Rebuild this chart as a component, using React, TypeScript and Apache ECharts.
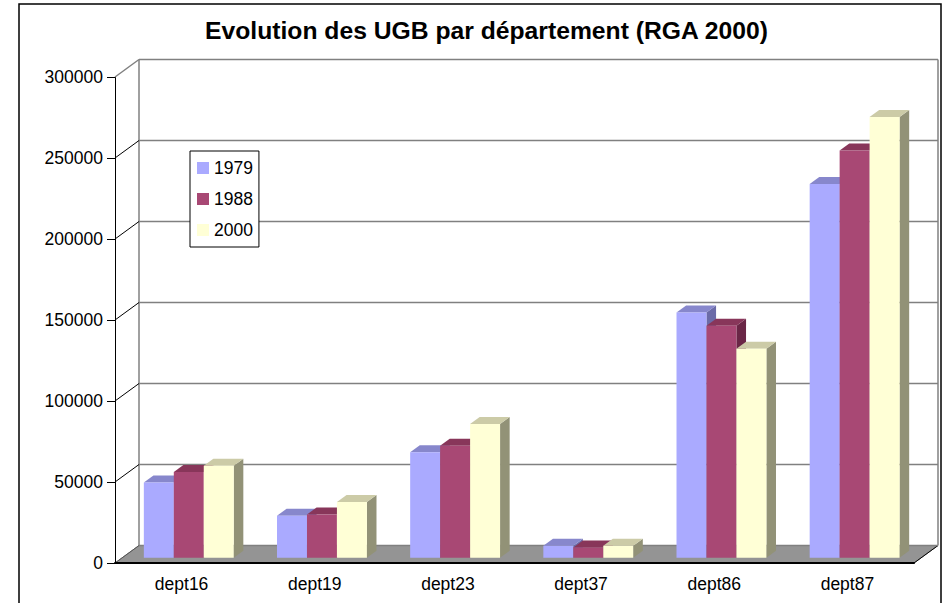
import React, { useEffect, useRef } from "react";
import * as echarts from "echarts";

const categories = ["dept16", "dept19", "dept23", "dept37", "dept86", "dept87"];
const years = ["1979", "1988", "2000"];
const values1979 = [46500, 25900, 65200, 7400, 151400, 230700];
const values1988 = [52900, 26700, 69100, 6400, 143200, 251400];
const values2000 = [56800, 34400, 82500, 7400, 129000, 272000];
const yTicks = [0, 50000, 100000, 150000, 200000, 250000, 300000];

const FONT = "Liberation Sans, Arial, sans-serif";
// depth of the 3D box (back wall offset) and bar depth placement
const DX = 24;
const DY = -17.5;
const FRONT = 0.3; // bar front at 30% of depth
const BACK = 0.7; // bar back at 70% of depth

const faceColors = [
  { front: "#AAAAFF", top: "#8787CC", side: "#6B6BA8" },
  { front: "#A84874", top: "#88365A", side: "#6A2646" },
  { front: "#FFFFD6", top: "#CCCBA7", side: "#929277" },
];

function barRender(k: number) {
  return (params: any, api: any) => {
    const cat = api.value(0);
    const v = api.value(1);
    const c = api.coord([cat, v]);
    const c0 = api.coord([cat, 0]);
    const band = api.size([1, 0])[0];
    const w = band * 0.225;
    const fx = DX * FRONT;
    const fy = DY * FRONT;
    const bdx = DX * (BACK - FRONT);
    const bdy = DY * (BACK - FRONT);
    const x0 = c[0] + (k - 1) * w - w / 2 + fx;
    const x1 = x0 + w;
    const yT = c[1] + fy;
    const yB = c0[1] + fy;
    const col = faceColors[k];
    return {
      type: "group",
      children: [
        {
          type: "polygon",
          shape: { points: [[x1, yT], [x1 + bdx, yT + bdy], [x1 + bdx, yB + bdy], [x1, yB]] },
          style: { fill: col.side },
        },
        {
          type: "polygon",
          shape: { points: [[x0, yT], [x1, yT], [x1 + bdx, yT + bdy], [x0 + bdx, yT + bdy]] },
          style: { fill: col.top },
        },
        {
          type: "rect",
          shape: { x: x0, y: yT, width: w, height: yB - yT },
          style: { fill: col.front },
        },
      ],
    };
  };
}

function wallRender(params: any, api: any) {
  const cs = params.coordSys;
  const v = api.value(1);
  const y = api.coord([0, v])[1];
  const xL = cs.x;
  const xR = cs.x + cs.width;
  const yTop = cs.y;
  const children: any[] = [];
  if (v === 0) {
    children.push({
      type: "polygon",
      shape: { points: [[xL, y], [xL + DX, y + DY], [xR + DX, y + DY], [xR, y]] },
      style: { fill: "#949494", stroke: "#7a7a7a", lineWidth: 1 },
    });
    children.push({
      type: "line",
      shape: { x1: xL + DX, y1: y + DY, x2: xL + DX, y2: yTop + DY },
      style: { stroke: "#808080", lineWidth: 1.5 },
    });
    children.push({
      type: "line",
      shape: { x1: xR + DX, y1: y + DY, x2: xR + DX, y2: yTop + DY },
      style: { stroke: "#808080", lineWidth: 1.5 },
    });
    children.push({
      type: "line",
      shape: { x1: xR, y1: y, x2: xR + DX, y2: y + DY },
      style: { stroke: "#000", lineWidth: 1 },
    });
  }
  children.push({
    type: "line",
    shape: { x1: xL + DX, y1: y + DY, x2: xR + DX, y2: y + DY },
    style: { stroke: "#808080", lineWidth: 1.5 },
  });
  const isTop = v === yTicks[yTicks.length - 1];
  children.push({
    type: "line",
    shape: { x1: xL, y1: y, x2: xL + DX, y2: y + DY },
    style: { stroke: isTop ? "#808080" : v === 0 ? "#555" : "#000", lineWidth: isTop ? 1.5 : 1 },
  });
  return { type: "group", children };
}

export default function App() {
  const ref = useRef<HTMLDivElement>(null);
  useEffect(() => {
    if (!ref.current) return;
    const chart = echarts.init(ref.current, null, { renderer: "svg" });
    const seriesVals = [values1979, values1988, values2000];
    const option: any = {
      animation: false,
      backgroundColor: "#fff",
      title: {
        text: "Evolution des UGB par département (RGA 2000)",
        left: 200,
        top: 13,
        textStyle: { fontFamily: FONT, fontSize: 24.7, fontWeight: "bold", color: "#000" },
      },
      legend: {
        data: years,
        orient: "vertical",
        left: 190,
        top: 151,
        backgroundColor: "#fff",
        borderColor: "#000",
        borderWidth: 1,
        padding: [8, 6, 8, 7],
        itemWidth: 12,
        itemHeight: 12,
        itemGap: 13,
        icon: "rect",
        selectedMode: false,
        textStyle: { fontFamily: FONT, fontSize: 17.5, color: "#000" },
      },
      graphic: [
        {
          type: "rect",
          shape: { x: 19, y: 4, width: 922, height: 640 },
          style: { fill: "none", stroke: "#000", lineWidth: 1.5 },
          z: 100,
          silent: true,
        },
      ],
      grid: { left: 115, right: 30, top: 77, bottom: 40 },
      xAxis: {
        type: "category",
        data: categories,
        axisLine: { lineStyle: { color: "#000", width: 2 } },
        axisTick: { length: 6, lineStyle: { color: "#000", width: 1 } },
        axisLabel: { fontFamily: FONT, fontSize: 17.5, color: "#000", margin: 12 },
        splitLine: { show: false },
        z: 5,
      },
      yAxis: {
        type: "value",
        min: 0,
        max: 300000,
        interval: 50000,
        axisLine: { show: true, lineStyle: { color: "#000", width: 1 } },
        axisTick: { show: true, length: 8, lineStyle: { color: "#000", width: 1 } },
        axisLabel: {
          fontFamily: FONT,
          fontSize: 17.5,
          color: "#000",
          margin: 12,
          formatter: (v: number) => String(v),
        },
        splitLine: { show: false },
      },
      series: [
        {
          type: "custom",
          name: "wall",
          silent: true,
          z: 1,
          clip: false,
          renderItem: wallRender,
          data: yTicks.map((v) => [0, v]),
          encode: { x: 0, y: 1 },
        },
        ...years.map((yr, k) => ({
          type: "custom",
          name: yr,
          z: 2,
          clip: false,
          itemStyle: { color: faceColors[k].front },
          renderItem: barRender(k),
          data: seriesVals[k].map((v, i) => [i, v]),
          encode: { x: 0, y: 1 },
        })),
      ],
    };
    chart.setOption(option);
    return () => chart.dispose();
  }, []);
  return (
    <div
      ref={ref}
      style={{ position: "fixed", left: 0, top: 0, width: 944, height: 603, background: "#fff" }}
    />
  );
}
